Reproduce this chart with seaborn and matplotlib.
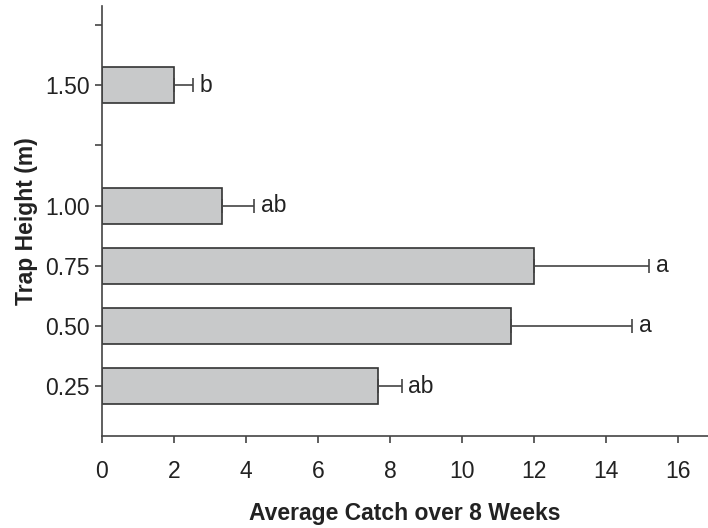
import numpy as np
import matplotlib
matplotlib.use("Agg")
import matplotlib.pyplot as plt
import seaborn as sns

# Data
heights = [0.25, 0.50, 0.75, 1.00, 1.50]
catch_mean = [7.67, 11.35, 12.0, 3.33, 2.0]
catch_err = [0.65, 3.37, 3.2, 0.89, 0.53]
letters = ["ab", "a", "a", "ab", "b"]

sns.set_style("ticks")
plt.rcParams['font.family'] = ['Liberation Sans', 'DejaVu Sans']

fig = plt.figure(figsize=(7.08, 5.28), dpi=100)
ax = fig.add_axes([0.144, 0.174, 0.856, 0.815])

sns.barplot(x=catch_mean, y=heights, orient='y', native_scale=True, width=0.6,
            color='#c8c9ca', edgecolor='#333333', linewidth=1.2, saturation=1,
            errorbar=None, ax=ax)

# one-sided error bars
ax.errorbar(catch_mean, heights, xerr=[np.zeros(len(catch_err)), catch_err],
            fmt='none', ecolor='#444444', elinewidth=1.2, capsize=5, capthick=1.2)

for m, e, h, lab in zip(catch_mean, catch_err, heights, letters):
    ax.annotate(lab, xy=(m + e, h), xytext=(5, 0), textcoords='offset points',
                va='center', ha='left', fontsize=16.5, color='#222222')

ax.set_xlim(0, 16.83)
ax.set_ylim(0.042, 1.83)
ax.set_xticks(range(0, 17, 2))
ax.set_yticks([0.25, 0.50, 0.75, 1.00, 1.25, 1.50, 1.75])
ax.set_yticklabels(["0.25", "0.50", "0.75", "1.00", "", "1.50", ""])
ax.tick_params(axis='both', labelsize=16.5, length=5, width=1.2, color='#444444',
               labelcolor='#222222', pad=4)
ax.tick_params(axis='x', pad=12)

ax.set_xlabel("Average Catch over 8 Weeks", fontsize=16.5, fontweight='bold',
              color='#222222', labelpad=14)
ax.set_ylabel("Trap Height (m)", fontsize=16.5, fontweight='bold', color='#222222',
              labelpad=5)

sns.despine(ax=ax)
for s in ['left', 'bottom']:
    ax.spines[s].set_color('#444444')
    ax.spines[s].set_linewidth(1.2)

fig.savefig("out.png", dpi=100)
